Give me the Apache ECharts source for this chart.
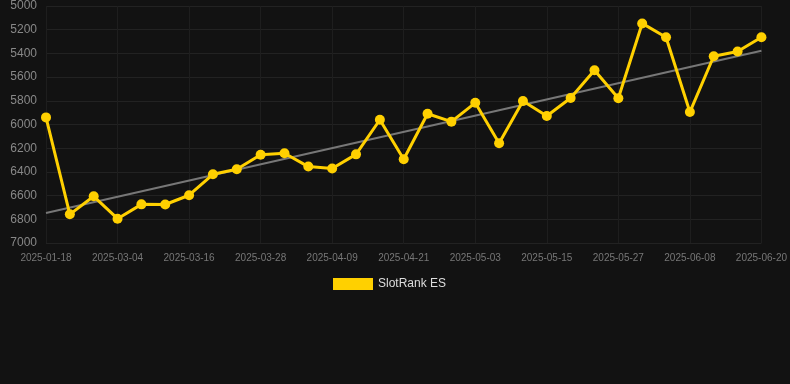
<!DOCTYPE html>
<html>
<head>
<meta charset="utf-8">
<script src="https://cdn.jsdelivr.net/npm/echarts@6/dist/echarts.min.js"></script>
<style>
html,body{margin:0;padding:0;background:#121212;}
#c{width:790px;height:384px;}
</style>
</head>
<body>
<div id="c"></div>
<script>
const categories = ['2025-01-18','2025-02-24','2025-02-28','2025-03-04','2025-03-08','2025-03-12','2025-03-16','2025-03-20','2025-03-24','2025-03-28','2025-04-01','2025-04-05','2025-04-09','2025-04-13','2025-04-17','2025-04-21','2025-04-25','2025-04-29','2025-05-03','2025-05-07','2025-05-11','2025-05-15','2025-05-19','2025-05-23','2025-05-27','2025-05-31','2025-06-04','2025-06-08','2025-06-12','2025-06-16','2025-06-20'];
const rankValues = [5940,6758,6606,6795,6674,6675,6597,6420,6377,6256,6243,6355,6372,6252,5960,6293,5909,5976,5817,6158,5801,5928,5776,5542,5778,5147,5264,5895,5424,5384,5264];
const trendStart = 6747;
const trendEnd = 5377;
const seriesName = 'SlotRank ES';

const trendData = categories.map((c, i) => i === 0 ? trendStart : (i === categories.length - 1 ? trendEnd : null));

const chart = echarts.init(document.getElementById('c'));
chart.setOption({
  backgroundColor: '#121212',
  animation: false,
  grid: { left: 46, right: 28, top: 6, bottom: 141 },
  legend: {
    data: [{ name: seriesName, icon: 'rect' }],
    top: 273,
    left: 328,
    itemWidth: 40,
    itemHeight: 12,
    itemGap: 10,
    textStyle: { color: '#dddddd', fontSize: 12, fontFamily: 'Liberation Sans, Arial, sans-serif' }
  },
  xAxis: {
    type: 'category',
    data: categories,
    boundaryGap: false,
    axisLine: { show: false },
    axisTick: { show: false },
    axisLabel: { interval: 2, color: '#777777', fontSize: 10, margin: 10, fontFamily: 'Liberation Sans, Arial, sans-serif' },
    splitLine: { show: true, interval: 2, lineStyle: { color: '#1e1e1e', width: 1 } }
  },
  yAxis: {
    type: 'value',
    inverse: true,
    min: 5000,
    max: 7000,
    interval: 200,
    axisLine: { show: false },
    axisTick: { show: false },
    axisLabel: { color: '#888888', fontSize: 12, margin: 9, fontFamily: 'Liberation Sans, Arial, sans-serif', formatter: v => String(v) },
    splitLine: { lineStyle: { color: '#222222', width: 1 } }
  },
  series: [
    {
      name: 'trend',
      type: 'line',
      data: trendData,
      connectNulls: true,
      symbol: 'none',
      lineStyle: { color: '#777777', width: 2 },
      silent: true,
      z: 1
    },
    {
      name: seriesName,
      type: 'line',
      data: rankValues,
      symbol: 'circle',
      symbolSize: 10,
      itemStyle: { color: '#FFD000' },
      lineStyle: { color: '#FFD000', width: 3 },
      z: 2
    }
  ]
});
</script>
</body>
</html>
